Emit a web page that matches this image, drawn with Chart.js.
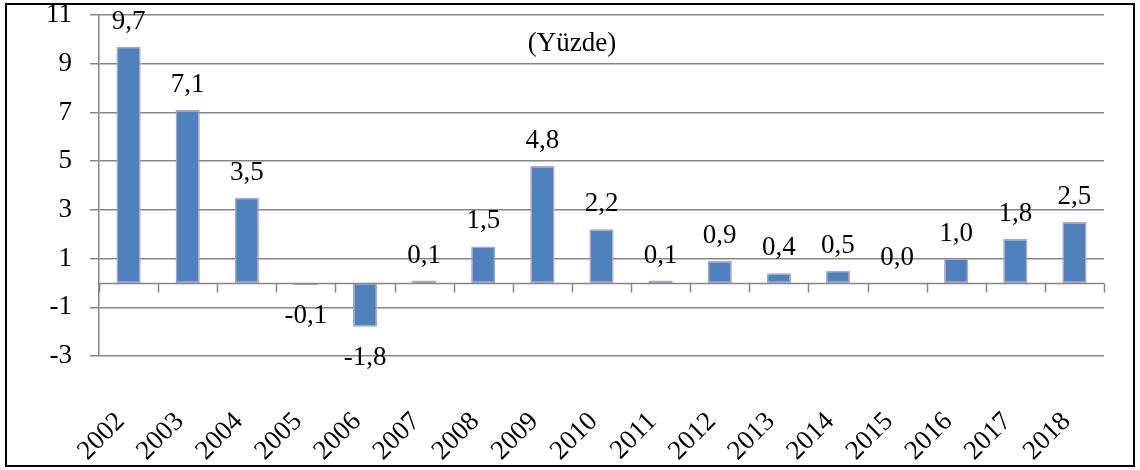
<!DOCTYPE html>
<html>
<head>
<meta charset="utf-8">
<script src="https://cdn.jsdelivr.net/npm/chart.js@4"></script>
<style>
  html, body { margin: 0; padding: 0; background: #fff; }
  #wrap { width: 1140px; height: 470px; }
</style>
</head>
<body>
<div id="wrap"><canvas id="chart" width="1140" height="470"></canvas></div>
<script>
// Data
const years = ['2002', '2003', '2004', '2005', '2006', '2007', '2008', '2009', '2010',
               '2011', '2012', '2013', '2014', '2015', '2016', '2017', '2018'];
const values = [9.7, 7.1, 3.5, -0.1, -1.8, 0.1, 1.5, 4.8, 2.2, 0.1, 0.9, 0.4, 0.5, 0.0, 1.0, 1.8, 2.5];
const unitLabel = '(Yüzde)';

const FONT = '"Liberation Serif", "Times New Roman", serif';
const FSIZE = 27;
const GRID = '#868686';

// outer frame, zero axis with ticks, value labels, unit text
const extras = {
    id: 'extras',
    afterDatasetsDraw(chart) {
        const ctx = chart.ctx;
        const area = chart.chartArea;
        const y = chart.scales.y;
        const y0 = Math.round(y.getPixelForValue(0)) + 0.5;

        ctx.save();
        ctx.strokeStyle = GRID;
        ctx.lineWidth = 1.5;
        ctx.beginPath();
        ctx.moveTo(area.left, y0);
        ctx.lineTo(area.right, y0);
        const step = (area.right - area.left) / years.length;
        for (let i = 0; i <= years.length; i++) {
            const x = Math.round(area.left + i * step) + 0.5;
            ctx.moveTo(x, y0);
            ctx.lineTo(x, y0 + 9);
        }
        ctx.stroke();

        // value labels
        ctx.fillStyle = '#000';
        ctx.font = FSIZE + 'px ' + FONT;
        ctx.textAlign = 'center';
        ctx.textBaseline = 'middle';
        const meta = chart.getDatasetMeta(0);
        meta.data.forEach((bar, i) => {
            const v = values[i];
            const txt = v.toFixed(1).replace('.', ',');
            const ty = v >= 0 ? bar.y - 25 : bar.y + 31;
            ctx.fillText(txt, bar.x, ty);
        });

        ctx.fillText(unitLabel, 572, 44);

        // frame
        ctx.strokeStyle = '#000';
        ctx.lineWidth = 2;
        ctx.strokeRect(6, 4, 1128, 462);
        ctx.restore();
    }
};

new Chart(document.getElementById('chart'), {
    type: 'bar',
    data: {
        labels: years,
        datasets: [{
            data: values,
            backgroundColor: '#4F81BD',
            borderColor: '#B3A2C7',
            borderWidth: 1.5,
            borderSkipped: false,
            barPercentage: 0.41,
            categoryPercentage: 1.0
        }]
    },
    options: {
        responsive: false,
        animation: false,
        layout: { padding: { top: 15, right: 36, left: 0, bottom: 0 } },
        plugins: {
            legend: { display: false },
            tooltip: { enabled: false }
        },
        scales: {
            x: {
                grid: { display: false, drawTicks: false },
                border: { display: false },
                ticks: {
                    minRotation: 45,
                    maxRotation: 45,
                    padding: 50,
                    labelOffset: -8,
                    color: '#000',
                    font: { family: FONT, size: FSIZE }
                },
                afterFit(scale) {
                    scale.height = 114;
                    scale.paddingLeft = 0;
                    scale.paddingRight = 0;
                }
            },
            y: {
                min: -3,
                max: 11,
                ticks: {
                    stepSize: 2,
                    padding: 18,
                    color: '#000',
                    font: { family: FONT, size: FSIZE }
                },
                grid: { color: GRID, lineWidth: 1.5, tickLength: 9 },
                border: { display: true, color: GRID, width: 1.5 },
                afterFit(scale) {
                    scale.width = 99;
                    scale.paddingTop = 0;
                    scale.paddingBottom = 0;
                }
            }
        }
    },
    plugins: [extras]
});
</script>
</body>
</html>
